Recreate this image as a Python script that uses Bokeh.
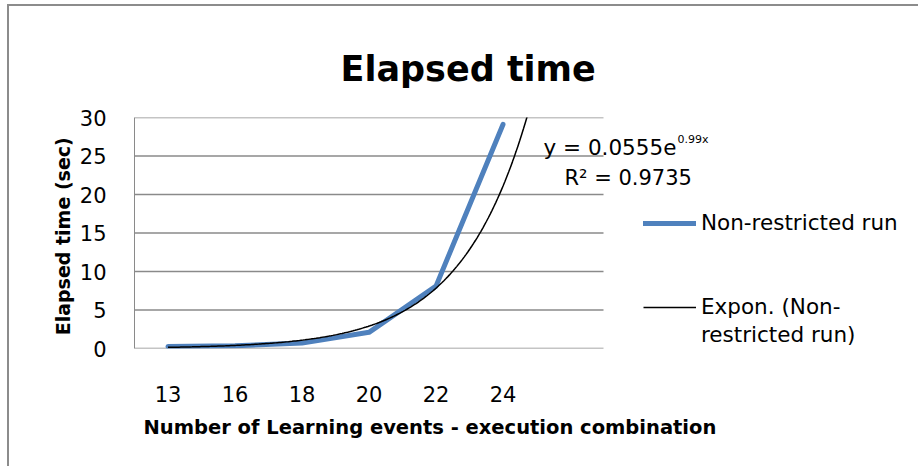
import numpy as np
from bokeh.plotting import figure
from bokeh.models import Range1d, FixedTicker, Legend, LegendItem, Label, Title
from bokeh.embed import file_html
from bokeh.resources import INLINE

# ---- data ----
categories = ["13", "16", "18", "20", "22", "24"]
elapsed = [0.25, 0.35, 0.7, 2.1, 8.1, 29.1]
trend_a = 0.0555
trend_b = 0.99
r_squared = 0.9735
y_ticks = [0, 5, 10, 15, 20, 25, 30]
forecast_forward = 0.5

FONT = "DejaVu Sans"
GRID = "#8a8a8a"
BLUE = "#4f81bd"

# page geometry: canvas origin at (9, 6) after margin + 2px border
OX, OY = 9, 6
W, H = 920 - OX, 468 - OY
FRAME_L, FRAME_T, FRAME_B = 134, 117, 348     # page px
PX_CAT = 67.0
n = len(categories)
xs = list(range(1, n + 1))
x_end = 0.5 + (OX + W - FRAME_L) / PX_CAT
y_max = y_ticks[-1]
px_unit = (FRAME_B - FRAME_T) / y_max

def dx(px):   # page px -> data x
    return 0.5 + (px - FRAME_L) / PX_CAT

def dy(py):   # page px -> data y
    return (FRAME_B - py) / px_unit

p = figure(width=W, height=H, output_backend="svg", toolbar_location=None,
           x_range=Range1d(0.5, x_end), y_range=Range1d(0, y_max),
           min_border_left=FRAME_L - OX, min_border_right=0,
           min_border_top=FRAME_T - OY, min_border_bottom=H - (FRAME_B - OY),
           outline_line_color=None,
           background_fill_color="white", border_fill_color="white",
           styles={"margin-left": "7px", "margin-top": "4px",
                   "border-left": "2px solid #8c8c8c",
                   "border-top": "2px solid #8c8c8c"})

p.xgrid.visible = False
p.ygrid.visible = False

# horizontal gridlines over the category slots (data + forecast slot)
slot_end = n + 1 + 0.5
p.segment(x0=[0.5] * len(y_ticks), x1=[slot_end] * len(y_ticks),
          y0=y_ticks, y1=y_ticks, line_color=GRID, line_width=1.5)

# data series
r_data = p.line(xs, elapsed, line_color=BLUE, line_width=5,
                line_join="round", line_cap="round")

# exponential trendline from the stated coefficients
tx = np.linspace(1, n + forecast_forward, 200)
ty = trend_a * np.exp(trend_b * tx)
r_trend = p.line(tx, ty, line_color="black", line_width=1.5)

# axes
xa = p.xaxis[0]
xa.ticker = FixedTicker(ticks=xs)
xa.major_label_overrides = {i: c for i, c in zip(xs, categories)}
xa.axis_line_color = None
xa.major_tick_line_color = None
xa.minor_tick_line_color = None
xa.major_label_standoff = 31
xa.major_label_text_font = FONT
xa.major_label_text_font_size = "21px"
xa.major_label_text_color = "black"

ya = p.yaxis[0]
ya.ticker = FixedTicker(ticks=y_ticks)
ya.axis_line_color = GRID
ya.axis_line_width = 1
ya.major_tick_line_color = None
ya.minor_tick_line_color = None
ya.major_label_standoff = 22
ya.major_label_text_font = FONT
ya.major_label_text_font_size = "21px"
ya.major_label_text_color = "black"
ya.axis_label = "Elapsed time  (sec)"
ya.axis_label_text_font = FONT
ya.axis_label_text_font_style = "bold"
ya.axis_label_text_font_size = "19px"
ya.axis_label_text_color = "black"
ya.axis_label_standoff = 3

# title
p.title = Title(text="Elapsed time", align="left", offset=206, standoff=57,
                text_font=FONT, text_font_style="bold", text_font_size="35px",
                text_color="black")

# x axis title
p.add_layout(Title(text="Number of Learning events - execution combination",
                   align="left", offset=9, standoff=18, text_font=FONT,
                   text_font_style="bold", text_font_size="19.5px",
                   text_color="black"), "below")

# trendline equation
p.add_layout(Label(x=dx(543), y=dy(147), text="y = 0.0555e", text_font=FONT,
                   text_font_size="21.5px", text_baseline="middle", text_color="black"))
p.add_layout(Label(x=dx(677), y=dy(139), text="%.2fx" % trend_b, text_font=FONT,
                   text_font_size="11px", text_baseline="middle", text_color="black"))
p.add_layout(Label(x=dx(564), y=dy(177), text="R\u00b2 = %.4f" % r_squared,
                   text_font=FONT, text_font_size="21px", text_baseline="middle",
                   text_color="black"))

legend_style = dict(orientation="vertical", label_text_font=FONT,
                    label_text_font_size="21.5px", label_text_color="black",
                    glyph_width=53, label_standoff=5, padding=0, margin=0,
                    border_line_color=None, background_fill_alpha=0)

legend_data = Legend(items=[LegendItem(label="Non-restricted run", renderers=[r_data])],
                     location=(643 - FRAME_L, 113), spacing=0, **legend_style)
legend_trend = Legend(items=[LegendItem(label="Expon. (Non-", renderers=[r_trend]),
                             LegendItem(label="restricted run)", renderers=[])],
                      location=(643 - FRAME_L, 1), spacing=3, **legend_style)
p.add_layout(legend_data)
p.add_layout(legend_trend)

open("out.html", "w").write(file_html(p, INLINE))
